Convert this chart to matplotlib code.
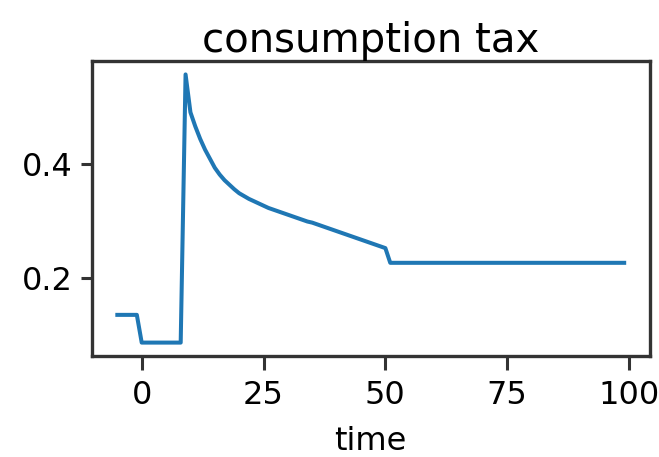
import numpy as np
import matplotlib
matplotlib.use("Agg")
import matplotlib.pyplot as plt

# consumption tax path, one value per period
time = np.arange(-5, 100)
tax_before = [0.134] * 5                      # t = -5 .. -1
tax_low = [0.085] * 9                         # t = 0 .. 8
tax_decay = [0.559, 0.492, 0.467, 0.445, 0.426, 0.410, 0.394, 0.382, 0.372,
             0.364, 0.356, 0.349, 0.344, 0.339, 0.335, 0.331, 0.327, 0.323,
             0.320, 0.317, 0.314, 0.311, 0.308, 0.305, 0.302, 0.299, 0.297,
             0.294, 0.291, 0.288, 0.285, 0.282, 0.279, 0.276, 0.273, 0.270,
             0.267, 0.264, 0.261, 0.258, 0.255, 0.252]   # t = 9 .. 50
tax_after = [0.226] * 49                      # t = 51 .. 99
tax = np.array(tax_before + tax_low + tax_decay + tax_after)

xticks = [0, 25, 50, 75, 100]
yticks = [0.2, 0.4]

plt.rcParams['font.family'] = ['DejaVu Sans']
spine_col = '#333333'

fig = plt.figure(figsize=(6.59, 4.57), dpi=100)
ax = fig.add_subplot(111)
fig.subplots_adjust(left=0.1396, right=0.9856, top=0.8665, bottom=0.221)

ax.plot(time, tax, color='#1f77b4', lw=2.9)
ax.set_xticks(xticks)
ax.set_yticks(yticks)
ax.set_title('consumption tax', fontsize=29, pad=6)
ax.set_xlabel('time', fontsize=23, labelpad=11)
ax.tick_params(labelsize=23, width=2.2, color=spine_col)
ax.tick_params(axis='x', length=10, pad=7)
ax.tick_params(axis='y', length=8, pad=6)
for s in ax.spines.values():
    s.set_linewidth(2.4)
    s.set_color(spine_col)

fig.savefig('out.png', dpi=100)
